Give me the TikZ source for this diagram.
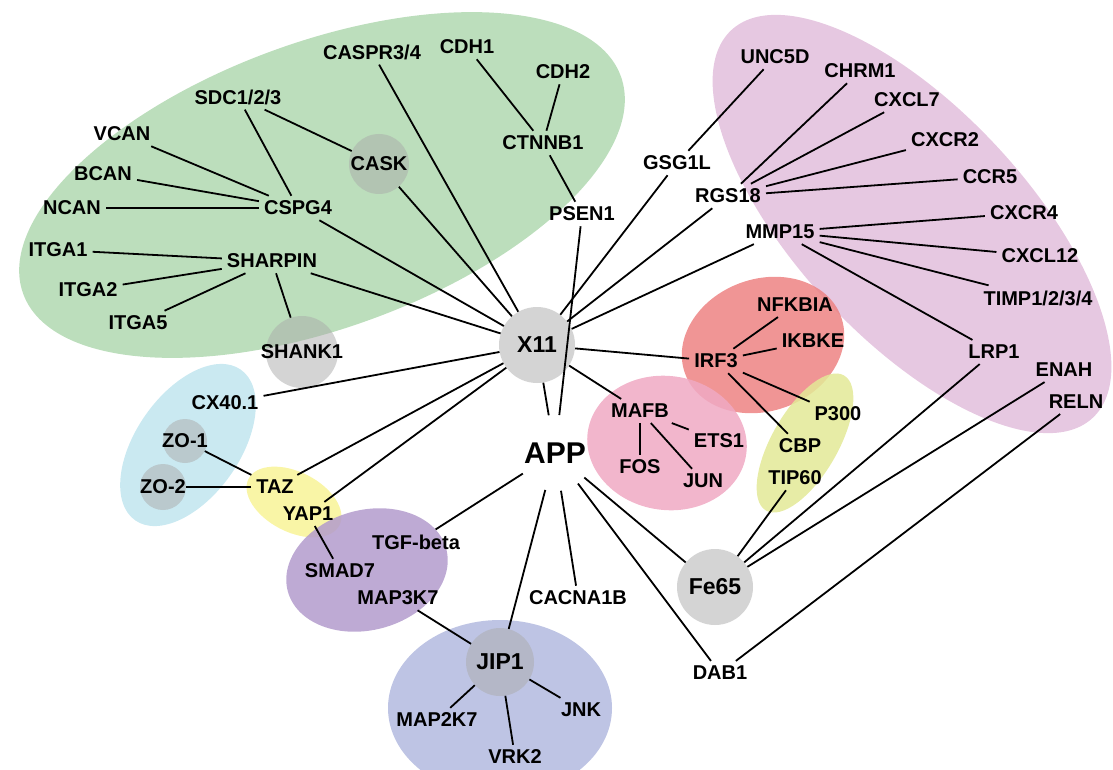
\documentclass[tikz,border=0pt]{standalone}
\usepackage{fontspec}
\setmainfont{Liberation Sans}
\usetikzlibrary{positioning}

\definecolor{leafgreen}{RGB}{176,216,176}
\definecolor{orchid}{RGB}{226,190,220}
\definecolor{salmon}{RGB}{237,131,131}
\definecolor{rosepink}{RGB}{240,169,195}
\definecolor{limeyellow}{RGB}{227,233,150}
\definecolor{skyblue}{RGB}{193,229,239}
\definecolor{paleyellow}{RGB}{248,243,150}
\definecolor{lavender}{RGB}{179,155,204}
\definecolor{periwinkle}{RGB}{179,186,223}
\definecolor{hubgray}{RGB}{170,170,170}

\newcommand{\genefont}{\bfseries\fontsize{20}{24}\selectfont}
\newcommand{\hubfont}{\bfseries\fontsize{23}{27}\selectfont}
\newcommand{\appfont}{\bfseries\fontsize{30}{36}\selectfont}

\begin{document}
\begin{tikzpicture}[
    x=1pt, y=-1pt,
    on grid,
    every node/.style={font=\genefont},
    gene/.style={inner sep=5pt},
    hub/.style={circle, fill=hubgray, fill opacity=0.5, text opacity=1, inner sep=-10pt},
    blob/.style={fill opacity=0.85},
    every edge/.append style={line width=1.8pt}
]
   \useasboundingbox (0,0) rectangle (1113,770);

   % Clusters
   \fill[blob, leafgreen, rotate around={20:(322,185)}] (322,185) ellipse [x radius=318, y radius=143];
   \fill[blob, orchid, rotate around={-47:(912,224)}] (912,224) ellipse [x radius=265, y radius=115];
   \fill[blob, salmon, rotate around={20:(763,345)}] (763,345) ellipse [x radius=83, y radius=66];
   \fill[blob, rosepink, rotate around={-8:(667,443)}] (667,443) ellipse [x radius=80, y radius=67];
   \fill[blob, limeyellow, rotate around={60:(805,443)}] (805,443) ellipse [x radius=78, y radius=33];
   \fill[blob, skyblue, rotate around={55:(188,445)}] (188,445) ellipse [x radius=92, y radius=52];
   \fill[blob, paleyellow, rotate around={-27:(294,502)}] (294,502) ellipse [x radius=51, y radius=30];
   \fill[blob, lavender, rotate around={15:(367,570)}] (367,570) ellipse [x radius=82, y radius=60];
   \fill[blob, periwinkle] (500,708) ellipse [x radius=112, y radius=88];

   % Hubs
   \node[hub, minimum size=76pt, font=\hubfont] (x11) at (537,345) {X11};
   \node[circle, inner sep=-10pt, minimum size=76pt, font=\appfont] (app) at (555,453) {APP};

   % X11 partners
   \node[gene] (cspg4) [above left=137pt and 239pt of x11] {CSPG4};
   \node[gene] (sharpin) [above left=84pt and 265pt of x11] {SHARPIN};
   \node[hub, minimum size=60pt] (cask) [above left=181pt and 158pt of x11] {CASK};
   \node[gene] (caspr) [above left=293pt and 165pt of x11] {CASPR3/4};
   \node[hub, minimum size=72pt] (shank1) [below left=7pt and 235pt of x11] {SHANK1};
   \node[gene] (psen1) [above right=131pt and 45pt of x11] {PSEN1};
   \node[gene] (gsg1l) [above right=182pt and 140pt of x11] {GSG1L};
   \node[gene] (rgs18) [above right=149pt and 191pt of x11] {RGS18};
   \node[gene] (mmp15) [above right=113pt and 243pt of x11] {MMP15};
   \node[gene] (irf3) [below right=16pt and 179pt of x11] {IRF3};
   \node[gene] (mafb) [below right=66pt and 103pt of x11] {MAFB};
   \node[gene] (cx401) [below left=58pt and 312pt of x11] {CX40.1};
   \node[gene] (taz) [below left=142pt and 262pt of x11] {TAZ};
   \node[gene] (yap1) [below left=169pt and 229pt of x11] {YAP1};

   % green cluster
   \node[gene] (sdc) [above left=111pt and 60pt of cspg4] {SDC1/2/3};
   \node[gene] (vcan) [above left=74pt and 176pt of cspg4] {VCAN};
   \node[gene] (bcan) [above left=34pt and 195pt of cspg4] {BCAN};
   \node[gene] (ncan) [left=226pt of cspg4] {NCAN};
   \node[gene] (itga1) [above left=11pt and 214pt of sharpin] {ITGA1};
   \node[gene] (itga2) [below left=29pt and 184pt of sharpin] {ITGA2};
   \node[gene] (itga5) [below left=62pt and 134pt of sharpin] {ITGA5};
   \node[gene] (ctnnb1) [above left=71pt and 39pt of psen1] {CTNNB1};
   \node[gene] (cdh1) [above left=96pt and 76pt of ctnnb1] {CDH1};
   \node[gene] (cdh2) [above right=71pt and 20pt of ctnnb1] {CDH2};

   % orchid cluster
   \node[gene] (unc5d) [above right=106pt and 98pt of gsg1l] {UNC5D};
   \node[gene] (chrm1) [above right=125pt and 132pt of rgs18] {CHRM1};
   \node[gene] (cxcl7) [above right=96pt and 179pt of rgs18] {CXCL7};
   \node[gene] (cxcr2) [above right=56pt and 217pt of rgs18] {CXCR2};
   \node[gene] (ccr5) [above right=19pt and 262pt of rgs18] {CCR5};
   \node[gene] (cxcr4) [above right=19pt and 244pt of mmp15] {CXCR4};
   \node[gene] (cxcl12) [below right=24pt and 260pt of mmp15] {CXCL12};
   \node[gene] (timp) [below right=66pt and 258pt of mmp15] {TIMP1/2/3/4};
   \node[gene] (lrp1) [below right=120pt and 214pt of mmp15] {LRP1};
   \node[gene] (enah) [below right=18pt and 70pt of lrp1] {ENAH};
   \node[gene] (reln) [below right=50pt and 82pt of lrp1] {RELN};

   % IRF3 and MAFB groups
   \node[gene] (nfkbia) [above right=56pt and 79pt of irf3] {NFKBIA};
   \node[gene] (ikbke) [above right=20pt and 97pt of irf3] {IKBKE};
   \node[gene] (p300) [below right=53pt and 122pt of irf3] {P300};
   \node[gene] (cbp) [below right=85pt and 84pt of irf3] {CBP};
   \node[gene] (tip60) [below right=117pt and 79pt of irf3] {TIP60};
   \node[gene] (ets1) [below right=30pt and 79pt of mafb] {ETS1};
   \node[gene] (fos) [below=56pt of mafb] {FOS};
   \node[gene] (jun) [below right=70pt and 63pt of mafb] {JUN};

   % APP partners
   \node[hub, minimum size=76pt, font=\hubfont] (fe65) [below right=134pt and 160pt of app] {Fe65};
   \node[gene] (dab1) [below right=220pt and 165pt of app] {DAB1};
   \node[gene] (cacna) [below right=145pt and 23pt of app] {CACNA1B};
   \node[hub, minimum size=68pt, font=\hubfont] (jip1) [below left=209pt and 55pt of app] {JIP1};
   \node[gene] (tgfb) [below left=89pt and 139pt of app] {TGF-beta};
   \node[gene] (smad7) [below left=29pt and 76pt of tgfb] {SMAD7};
   \node[gene] (map3k7) [below left=56pt and 18pt of tgfb] {MAP3K7};
   \node[gene] (map2k7) [below left=58pt and 63pt of jip1] {MAP2K7};
   \node[gene] (vrk2) [below right=95pt and 15pt of jip1] {VRK2};
   \node[gene] (jnk) [below right=48pt and 81pt of jip1] {JNK};

   % junction proteins
   \node[hub, minimum size=44pt] (zo1) [above left=46pt and 90pt of taz] {ZO-1};
   \node[hub, minimum size=46pt] (zo2) [left=112pt of taz] {ZO-2};

   % Interactions
   \path
   (x11) edge (app)
         edge (cspg4)
         edge (sharpin)
         edge (cask)
         edge (caspr)
         edge (gsg1l)
         edge (rgs18)
         edge (mmp15)
         edge (irf3)
         edge (mafb)
         edge (cx401)
         edge (taz)
         edge (yap1)

   (app) edge (psen1)
         edge (fe65)
         edge (dab1)
         edge (cacna)
         edge (jip1)
         edge (tgfb)

   (cspg4) edge (sdc)
           edge (vcan)
           edge (bcan)
           edge (ncan)
   (sdc) edge (cask)
   (sharpin) edge (itga1)
             edge (itga2)
             edge (itga5)
             edge (shank1)
   (ctnnb1) edge (psen1)
            edge (cdh1)
            edge (cdh2)

   (gsg1l) edge (unc5d)
   (rgs18) edge (chrm1)
           edge (cxcl7)
           edge (cxcr2)
           edge (ccr5)
   (mmp15) edge (cxcr4)
           edge (cxcl12)
           edge (timp)
           edge (lrp1)

   (fe65) edge (lrp1)
          edge (enah)
          edge (tip60)
   (dab1) edge (reln)

   (irf3) edge (nfkbia)
          edge (ikbke)
          edge (p300)
          edge (cbp)
   (mafb) edge (ets1)
          edge (fos)
          edge (jun)

   (taz) edge (zo1)
         edge (zo2)
   (yap1) edge (smad7)
   (jip1) edge (map3k7)
          edge (map2k7)
          edge (vrk2)
          edge (jnk);
\end{tikzpicture}
\end{document}
